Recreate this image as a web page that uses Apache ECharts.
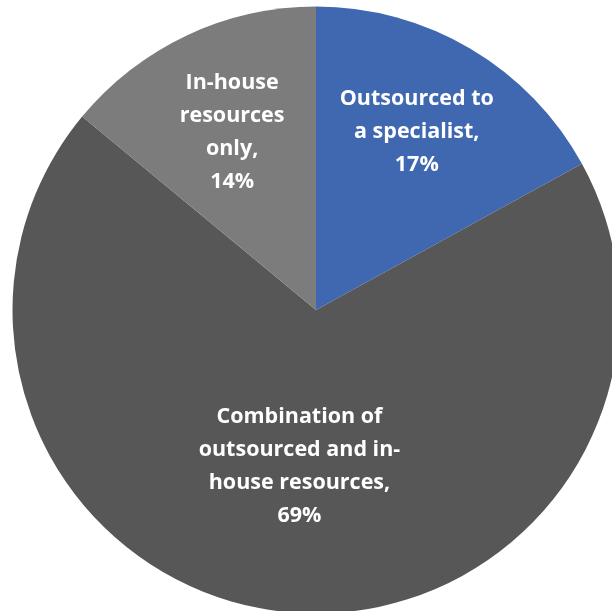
<!DOCTYPE html>
<html>
<head>
<meta charset="utf-8">
<script src="https://cdn.jsdelivr.net/npm/echarts@6/dist/echarts.min.js"></script>
<style>
  html, body { margin: 0; padding: 0; background: #fff; }
  #chart { width: 612px; height: 611px; }
</style>
</head>
<body>
<div id="chart"></div>
<script>
// slices, clockwise from 12 o'clock
var categories = ['Outsourced to\na specialist', 'Combination of\noutsourced and in-\nhouse resources', 'In-house\nresources\nonly'];
var shares = [17, 69, 14];
var colors = ['#4068b0', '#575757', '#7c7c7c'];
var labelOffsets = [[22, -45], [-2, 2], [-18, -38]];

var chart = echarts.init(document.getElementById('chart'));

var data = categories.map(function (name, i) {
    return {
        name: name,
        value: shares[i],
        itemStyle: { color: colors[i] },
        label: { offset: labelOffsets[i] }
    };
});

var option = {
    animation: false,
    series: [{
        type: 'pie',
        center: [316, 310],
        radius: [0, 303.5],
        startAngle: 90,
        clockwise: true,
        itemStyle: { borderWidth: 0 },
        label: {
            show: true,
            position: 'inside',
            color: '#fff',
            fontFamily: 'Open Sans',
            fontWeight: 'bold',
            fontSize: 21.5,
            lineHeight: 33,
            align: 'center',
            formatter: function (p) {
                return p.name + ',\n' + p.value + '%';
            }
        },
        labelLine: { show: false },
        emphasis: { disabled: true },
        data: data
    }]
};
chart.setOption(option);
</script>
</body>
</html>
